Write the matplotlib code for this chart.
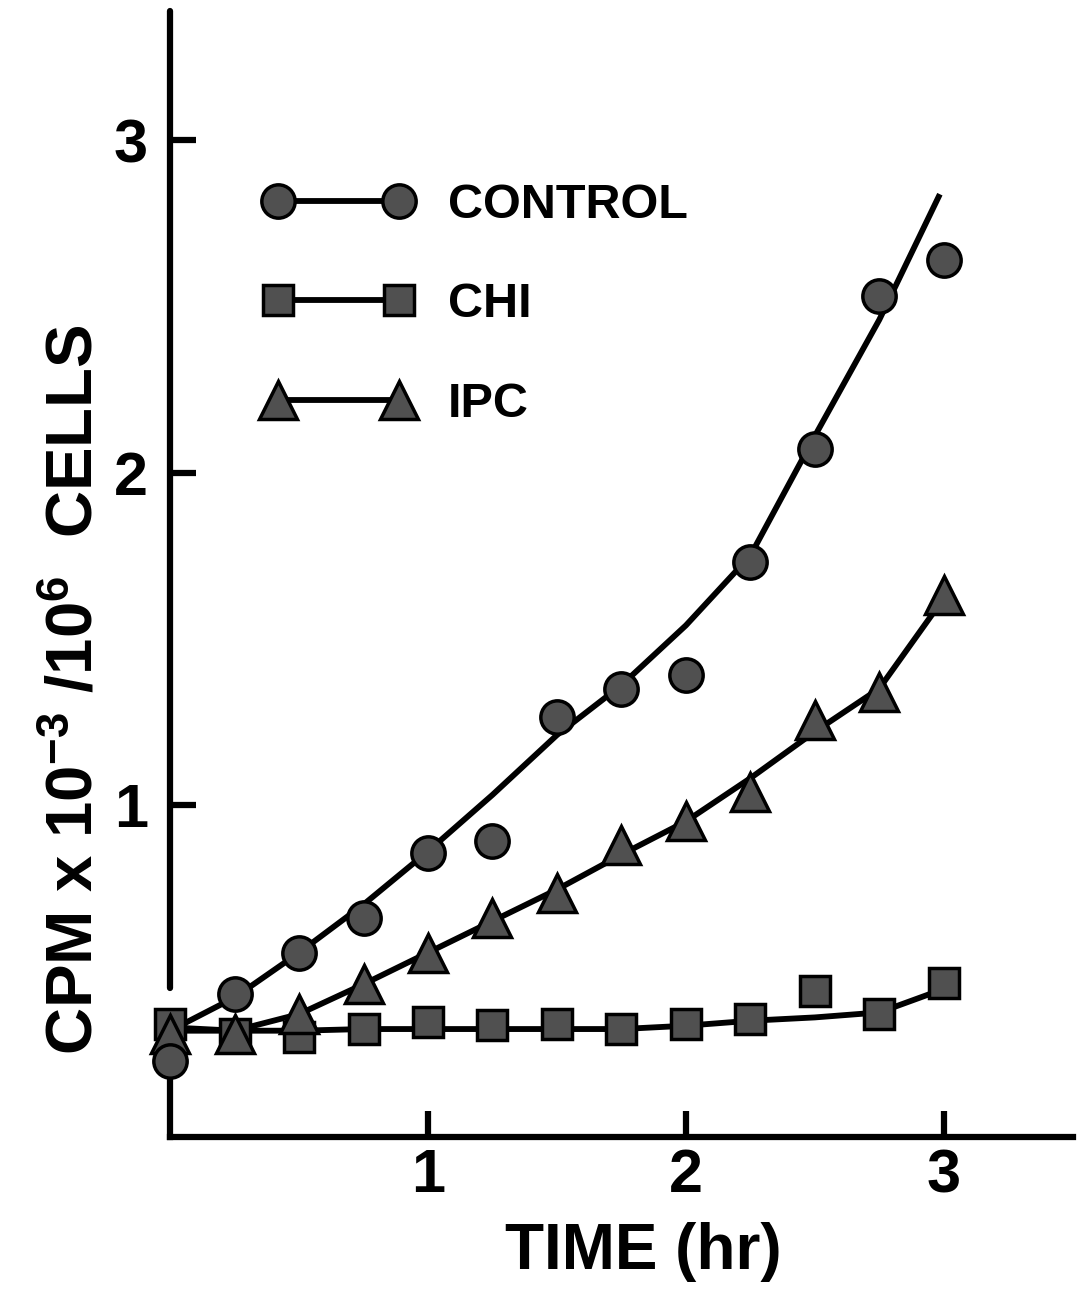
import numpy as np
import matplotlib
matplotlib.use("Agg")
import matplotlib.pyplot as plt
from matplotlib.lines import Line2D

# time points (hr)
time_hr = [0.0, 0.25, 0.5, 0.75, 1.0, 1.25, 1.5, 1.75, 2.0, 2.25, 2.5, 2.75, 3.0]

# measured points, CPM x 10^-3 / 10^6 cells
control_pts = [0.23, 0.43, 0.555, 0.66, 0.855, 0.89, 1.265, 1.35, 1.39, 1.73, 2.07, 2.53, 2.64]
chi_pts = [0.34, 0.31, 0.30, 0.325, 0.345, 0.336, 0.34, 0.325, 0.34, 0.355, 0.44, 0.37, 0.465]
ipc_pts = [0.31, 0.31, 0.37, 0.46, 0.555, 0.66, 0.735, 0.88, 0.95, 1.04, 1.255, 1.34, 1.63]

# hand-drawn curves through the points
fit_time = [0.0, 0.25, 0.5, 0.75, 1.0, 1.25, 1.5, 1.75, 2.0, 2.25, 2.5, 2.75, 2.98]
control_fit = [0.32, 0.42, 0.555, 0.70, 0.86, 1.03, 1.21, 1.36, 1.54, 1.75, 2.11, 2.46, 2.83]
chi_fit = [0.33, 0.32, 0.32, 0.325, 0.325, 0.325, 0.325, 0.325, 0.335, 0.35, 0.36, 0.375, 0.44]
ipc_fit = [0.32, 0.32, 0.37, 0.46, 0.555, 0.65, 0.745, 0.85, 0.95, 1.08, 1.22, 1.35, 1.60]

labels = ["CONTROL", "CHI", "IPC"]
markers = ["o", "s", "^"]
marker_sizes = [24, 22, 28]
xticks = [1, 2, 3]
yticks = [1, 2, 3]

plt.rcParams["font.family"] = ["Liberation Sans", "DejaVu Sans"]
plt.rcParams["font.weight"] = "bold"
plt.rcParams["mathtext.fontset"] = "custom"
plt.rcParams["mathtext.rm"] = "Liberation Sans:bold"
plt.rcParams["mathtext.bf"] = "Liberation Sans:bold"
plt.rcParams["mathtext.default"] = "bf"

FACE = "#505050"
LW = 4.5

fig = plt.figure(figsize=(10.77, 12.99), dpi=100)
ax = fig.add_axes([0.158, 0.1247, 0.838, 0.867])
ax.set_xlim(0, 3.5)
ax.set_ylim(0, 3.39)

for s in ["top", "right", "left"]:
    ax.spines[s].set_visible(False)
ax.spines["bottom"].set_linewidth(LW)
ax.spines["bottom"].set_capstyle("projecting")

# broken y axis
ax.axvline(0, ymin=0, ymax=0.17 / 3.39, color="black", lw=LW, clip_on=False)
ax.axvline(0, ymin=0.45 / 3.39, ymax=1, color="black", lw=LW, clip_on=False,
           solid_capstyle="round")

for fit in [control_fit, chi_fit, ipc_fit]:
    ax.plot(fit_time, fit, color="black", lw=4.2, clip_on=False, zorder=3)

for pts, m, ms in [(chi_pts, "s", 22), (ipc_pts, "^", 28), (control_pts, "o", 24)]:
    ax.plot(time_hr, pts, ls="none", marker=m, ms=ms, mfc=FACE, mec="black",
            mew=2.5, clip_on=False, zorder=4)

ax.set_xticks(xticks)
ax.set_yticks(yticks)
ax.tick_params(direction="in", length=19, width=LW, labelsize=44)
ax.tick_params(axis="y", pad=16)
ax.tick_params(axis="x", pad=8)

fig.text(0.07, 0.469, r"CPM x 10$^{-3}$ /10$^{6}$  CELLS", rotation=90,
         ha="center", va="center", fontsize=47)
fig.text(0.597, 0.036, "TIME (hr)", ha="center", va="center", fontsize=46)

handles = [Line2D([], [], color="black", lw=4.2, marker=m, ms=ms, mfc=FACE,
                  mec="black", mew=2.5)
           for m, ms in zip(markers, marker_sizes)]
ax.legend(handles, labels, numpoints=2, frameon=False, fontsize=35,
          handlelength=3.1, handletextpad=0.7, labelspacing=1.12,
          borderpad=0, borderaxespad=0, loc="upper left",
          bbox_to_anchor=(263 / 1077, 1 - 183 / 1299),
          bbox_transform=fig.transFigure)

fig.savefig("out.png", dpi=100)
